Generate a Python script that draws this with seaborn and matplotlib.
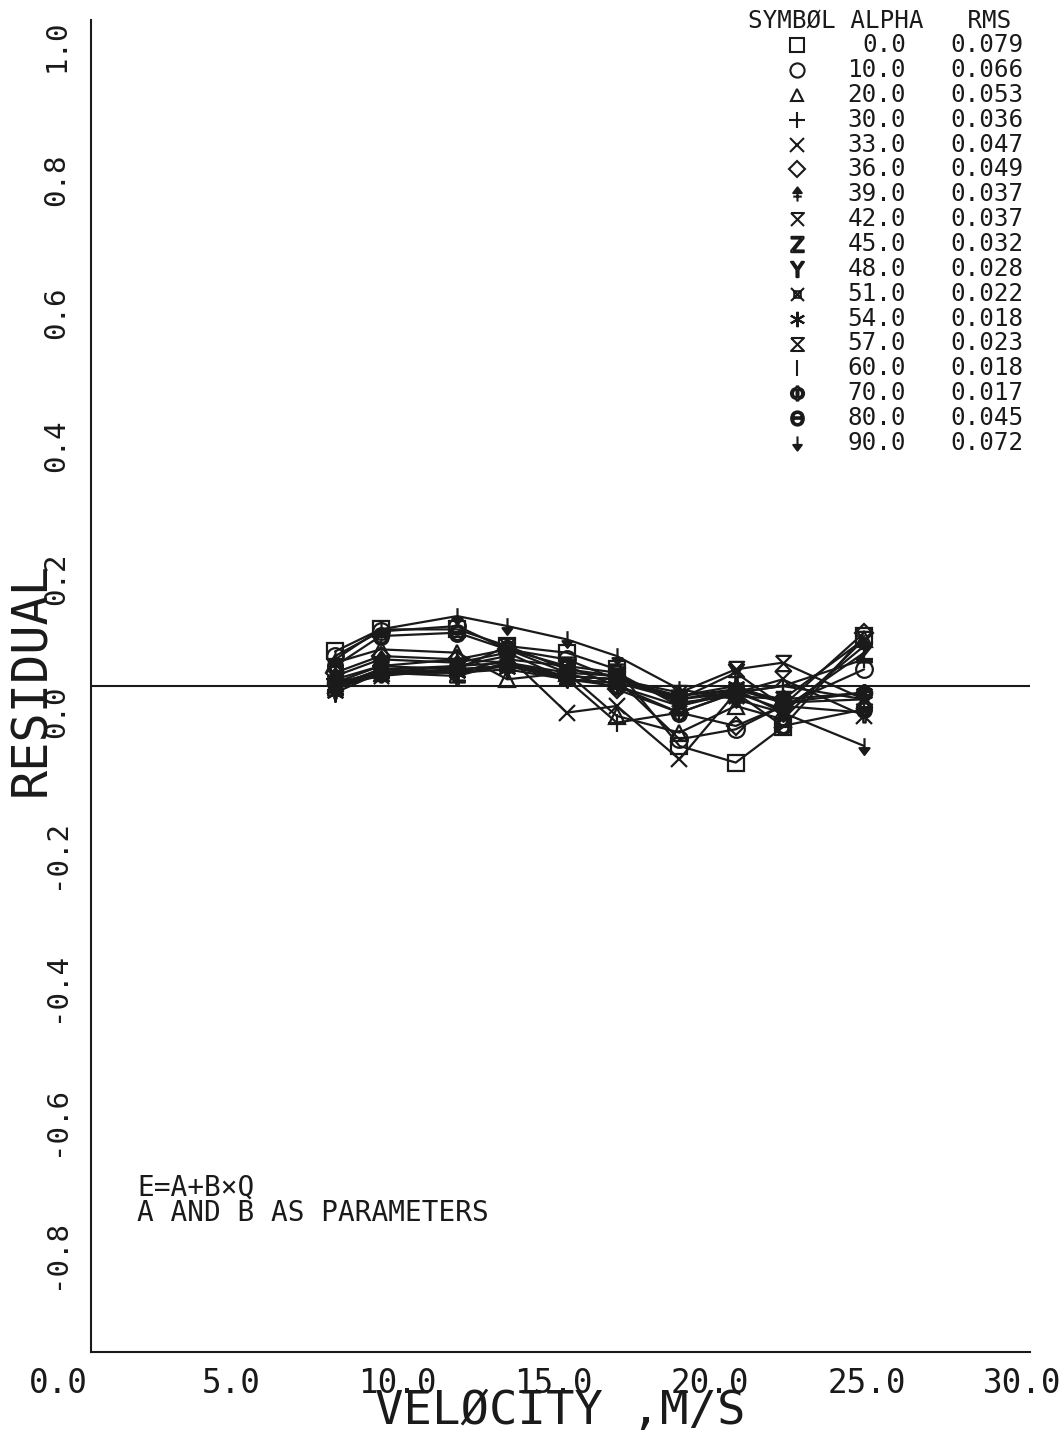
import numpy as np
import pandas as pd
import matplotlib
matplotlib.use("Agg")
import matplotlib.pyplot as plt
import matplotlib.transforms as mtransforms
from matplotlib.path import Path
import seaborn as sns

# ---------------- data ----------------
velocity = [7.8, 9.25, 11.7, 13.3, 15.2, 16.8, 18.8, 20.6, 22.1, 24.7]
alphas = [0.0, 10.0, 20.0, 30.0, 33.0, 36.0, 39.0, 42.0, 45.0, 48.0,
          51.0, 54.0, 57.0, 60.0, 70.0, 80.0, 90.0]
rms = [0.079, 0.066, 0.053, 0.036, 0.047, 0.049, 0.037, 0.037, 0.032, 0.028,
       0.022, 0.018, 0.023, 0.018, 0.017, 0.045, 0.072]
res_a00 = [0.052, 0.085, 0.085, 0.060, 0.050, 0.025, -0.090, -0.115, -0.062, 0.075]
res_a10 = [0.045, 0.082, 0.090, 0.055, 0.040, 0.010, -0.080, -0.065, -0.030, 0.025]
res_a20 = [0.035, 0.055, 0.050, 0.010, 0.020, -0.045, -0.070, -0.030, -0.050, 0.070]
res_a30 = [0.010, 0.030, 0.040, 0.035, 0.010, -0.055, -0.040, -0.010, 0.000, 0.040]
res_a33 = [0.000, 0.025, 0.030, 0.045, -0.040, -0.030, -0.110, -0.010, 0.010, -0.045]
res_a36 = [0.020, 0.045, 0.040, 0.055, 0.020, -0.005, -0.040, -0.060, -0.030, 0.080]
res_a39 = [0.015, 0.040, 0.035, 0.050, 0.010, 0.000, -0.030, -0.005, -0.040, 0.060]
res_a42 = [0.005, 0.030, 0.025, 0.060, 0.025, 0.015, -0.025, -0.015, -0.020, 0.070]
res_a45 = [0.000, 0.025, 0.020, 0.040, 0.030, 0.020, -0.030, -0.010, -0.035, 0.050]
res_a48 = [-0.005, 0.020, 0.015, 0.035, 0.020, 0.015, -0.020, 0.020, -0.030, -0.040]
res_a51 = [0.000, 0.015, 0.025, 0.030, 0.015, 0.010, -0.020, -0.005, -0.025, -0.020]
res_a54 = [-0.010, 0.020, 0.020, 0.025, 0.010, 0.005, -0.015, 0.000, -0.025, -0.010]
res_a57 = [0.005, 0.020, 0.030, 0.035, 0.015, 0.010, -0.010, 0.025, 0.035, -0.020]
res_a60 = [0.000, 0.020, 0.020, 0.030, 0.010, 0.005, -0.020, -0.010, 0.000, -0.020]
res_a70 = [0.005, 0.020, 0.025, 0.030, 0.015, 0.010, -0.015, -0.005, -0.020, -0.010]
res_a80 = [0.030, 0.075, 0.080, 0.055, 0.030, 0.000, -0.040, -0.010, -0.060, -0.035]
res_a90 = [0.040, 0.085, 0.105, 0.090, 0.070, 0.045, -0.005, -0.020, -0.040, -0.090]
residuals = [res_a00, res_a10, res_a20, res_a30, res_a33, res_a36, res_a39, res_a42,
             res_a45, res_a48, res_a51, res_a54, res_a57, res_a60, res_a70, res_a80, res_a90]
x_ticks = [0, 5, 10, 15, 20, 25, 30]
x_tick_labels = ["0.0", "5.0", "10.0", "15.0", "20.0", "25.0", "30.0"]
y_ticks = [-0.8, -0.6, -0.4, -0.2, 0.0, 0.2, 0.4, 0.6, 0.8, 1.0]
y_tick_labels = ["-0.8", "-0.6", "-0.4", "-0.2", "0.0", "0.2", "0.4", "0.6", "0.8", "1.0"]

# ---------------- marker styles ----------------
M, L = Path.MOVETO, Path.LINETO
mk_39 = Path([(0, -1), (0, 0.2), (-0.6, 0.2), (0, 1), (0.6, 0.2), (0, 0.2), (-0.6, -0.3), (0.6, -0.3)],
             [M, L, L, L, L, L, M, L])
mk_42 = Path([(-1, 1), (1, 1), (-1, -1), (1, -1), (-1, 1)], [M, L, L, M, L])
mk_51 = Path([(-0.5, -0.5), (0.5, -0.5), (0.5, 0.5), (-0.5, 0.5), (-0.5, -0.5),
              (-1, -1), (1, 1), (-1, 1), (1, -1)], [M, L, L, L, L, M, L, M, L])
mk_57 = Path([(-1, 1), (1, 1), (-1, -1), (1, -1), (-1, 1)], [M, L, L, L, L])
mk_90 = Path([(0, 1), (0, -0.2), (-0.6, -0.2), (0, -1), (0.6, -0.2), (0, -0.2)],
             [M, L, L, L, L, L])
markers = ['s', 'o', '^', '+', 'x', 'D', mk_39, mk_42, r'$\mathrm{Z}$', r'$\mathrm{Y}$',
           mk_51, (6, 2, 0), mk_57, '|', r'$\Phi$', r'$\Theta$', mk_90]
filled = [False] * 16 + [True]
filled[6] = True
sizes = [12, 12, 11, 13, 12, 9, 12, 11, 13, 13, 11, 13, 11, 13, 12, 12, 12]

# ---------------- figure ----------------
sns.set_theme(style="white")
plt.rcParams['font.family'] = ['DejaVu Sans Mono', 'DejaVu Sans']
plt.rcParams['axes.linewidth'] = 1.5

fig = plt.figure(figsize=(10.6, 14.32), dpi=100)
ax = fig.add_axes([91 / 1060, 1 - 1352 / 1432, (1030 - 91) / 1060, (1352 - 20) / 1432])

for res, mk, fl, ms in zip(residuals, markers, filled, sizes):
    sns.lineplot(x=velocity, y=res, ax=ax, color='k', lw=1.6, marker=mk, markersize=ms,
                 markerfacecolor='k' if fl else 'none', markeredgecolor='k',
                 markeredgewidth=1.6, legend=False, errorbar=None, sort=False)

ax.axhline(0.0, color='k', lw=1.5, zorder=0)

ax.set_xlim(0, 30)
ax.set_ylim(-1.0, 1.0)
for s in ['top', 'right']:
    ax.spines[s].set_visible(False)
for s in ['left', 'bottom']:
    ax.spines[s].set_color('k')

ax.set_xticks(x_ticks)
ax.set_xticklabels(x_tick_labels, fontsize=23.5, ha='left')
ax.set_yticks(y_ticks)
ax.set_yticklabels(y_tick_labels, fontsize=21, rotation=90, va='top', ha='right')
ax.tick_params(axis='x', direction='out', length=9, width=1.5, pad=1.5, colors='k')
ax.tick_params(axis='y', direction='out', length=15, width=1.5, pad=0, colors='k')
for i, lab in enumerate(ax.get_xticklabels()):
    dx = -46 if i > 0 else -62
    if i == len(x_tick_labels) - 1:
        dx = -47
    lab.set_transform(lab.get_transform() + mtransforms.ScaledTranslation(dx / 100, 0, fig.dpi_scale_trans))

ax.set_xlabel("VELØCITY ,M/S", fontsize=34, color='k', va='top')
ax.xaxis.set_label_coords(0.5, -(1389 - 1352) / 1332)
ax.set_ylabel("RESIDUAL", fontsize=35, color='k')
ax.yaxis.set_label_coords(-0.038, 0.505)

# annotation
fig.text(137 / 1060, 1 - 1188 / 1432, "E=A+B×Q", fontsize=20, va='center', ha='left', color='k')
fig.text(137 / 1060, 1 - 1213 / 1432, "A AND B AS PARAMETERS", fontsize=20, va='center', ha='left', color='k')

# symbol table
fs_leg = 17.5
fig.text(748 / 1060, 1 - 20 / 1432, "SYMBØL ALPHA   RMS", fontsize=fs_leg, va='center', ha='left', color='k')
row0, dy = 45, 24.875
for i, (a, r, mk, fl, ms) in enumerate(zip(alphas, rms, markers, filled, sizes)):
    yy = 1 - (row0 + i * dy) / 1432
    fig.text(906 / 1060, yy, f"{a:.1f}", fontsize=fs_leg, va='center', ha='right', color='k')
    fig.text(950 / 1060, yy, f"{r:.3f}", fontsize=fs_leg, va='center', ha='left', color='k')
    ax.plot([797 / 1060], [yy], transform=fig.transFigure, clip_on=False, ls='none',
            marker=mk, markersize=ms * 0.85, markerfacecolor='k' if fl else 'none',
            markeredgecolor='k', markeredgewidth=1.5)

fig.savefig("out.png", dpi=100, facecolor='white')
